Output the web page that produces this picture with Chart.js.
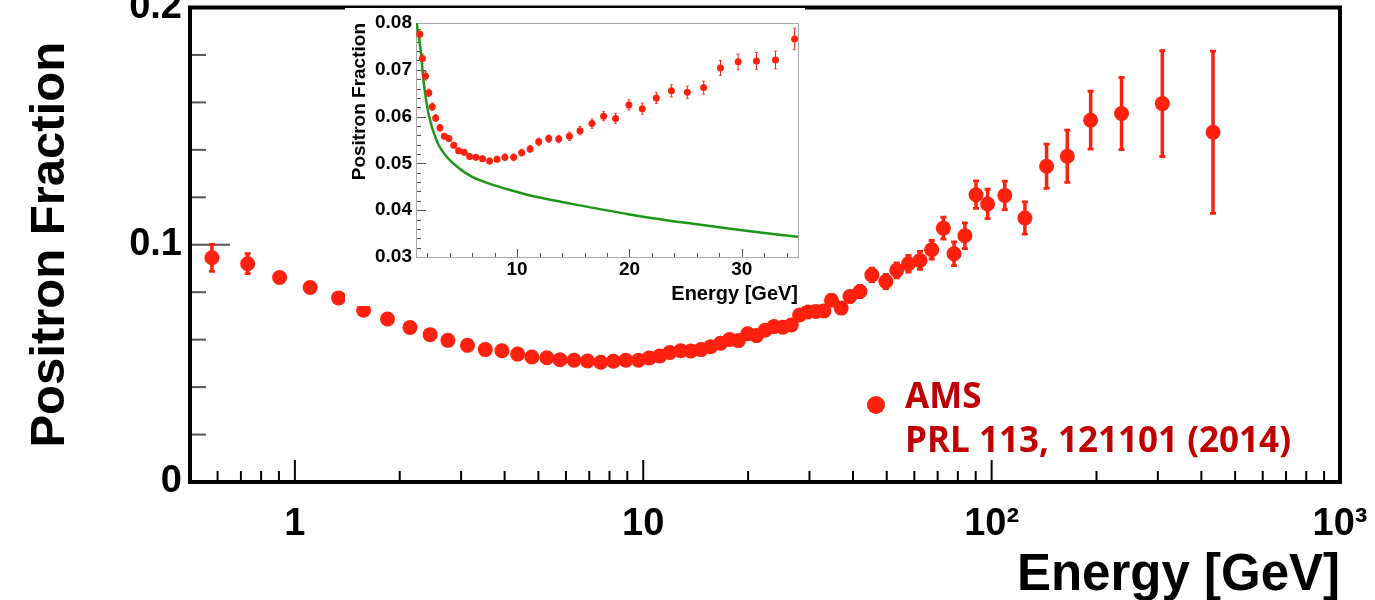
<!DOCTYPE html>
<html>
<head>
<meta charset="utf-8">
<title>Positron Fraction</title>
<script src="https://cdn.jsdelivr.net/npm/chart.js@4.4.1/dist/chart.umd.min.js"></script>
<style>
  html, body { margin: 0; padding: 0; background: #fff; overflow: hidden; }
  #wrap { position: relative; width: 1375px; height: 600px; }
  #main { position: absolute; left: 0; top: 0; }
  #inset { position: absolute; left: 345px; top: 8px; background: #fff; }
</style>
</head>
<body>
<div id="wrap">
  <canvas id="main" width="1375" height="600"></canvas>
  <canvas id="inset" width="460" height="298"></canvas>
</div>
<script>
// AMS positron fraction
const energy = [0.578, 0.732, 0.904, 1.106, 1.335, 1.575, 1.845, 2.14, 2.445, 2.75,
  3.13, 3.52, 3.93, 4.36, 4.79, 5.29, 5.77, 6.33, 6.92, 7.55,
  8.21, 8.91, 9.69, 10.4, 11.15, 11.92, 12.81, 13.7, 14.65, 15.6,
  16.66, 17.7, 18.76, 19.95, 21.14, 22.39, 23.73, 25.15, 26.6, 28.1,
  29.67, 31.3, 33.0, 34.7, 37.0, 39.2, 41.9, 45.3, 49.7, 53.4,
  57.7, 62.3, 67.3, 72.7, 78.0, 83.8, 90.2, 97.4, 109.1, 124.6,
  143.8, 164.9, 192.4, 236, 309, 432]
const fraction = [0.0945, 0.0920, 0.0862, 0.0820, 0.0776, 0.0724, 0.0687, 0.0651, 0.0621, 0.0597,
  0.0576, 0.0558, 0.0553, 0.0539, 0.0527, 0.0524, 0.0515, 0.0513, 0.0510, 0.0505,
  0.0509, 0.0513, 0.0513, 0.0523, 0.0531, 0.0546, 0.0553, 0.0552, 0.0558, 0.0570,
  0.0585, 0.0601, 0.0596, 0.0625, 0.0617, 0.0640, 0.0655, 0.0652, 0.0662, 0.0704,
  0.0717, 0.0719, 0.0721, 0.0766, 0.0733, 0.0782, 0.0803, 0.0873, 0.0845, 0.0892,
  0.0920, 0.0934, 0.0979, 0.1070, 0.0962, 0.1038, 0.1211, 0.1172, 0.1208, 0.1113,
  0.1331, 0.1373, 0.1525, 0.1553, 0.1595, 0.1474]
const fractionErr = [0.0057, 0.0042, 0.0012, 0.0010, 0.0010, 0.0010, 0.0009, 0.0008, 0.0008, 0.0007,
  0.0007, 0.0006, 0.0006, 0.0006, 0.0006, 0.0006, 0.0006, 0.0006, 0.0006, 0.0006,
  0.0006, 0.0007, 0.0007, 0.0007, 0.0007, 0.0008, 0.0008, 0.0008, 0.0009, 0.0009,
  0.0010, 0.0010, 0.0011, 0.0011, 0.0012, 0.0012, 0.0013, 0.0013, 0.0014, 0.0016,
  0.0017, 0.0018, 0.0019, 0.0023, 0.0022, 0.0024, 0.0026, 0.0028, 0.0030, 0.0032,
  0.0035, 0.0038, 0.0039, 0.0046, 0.0050, 0.0054, 0.0058, 0.0062, 0.0060, 0.0068,
  0.0093, 0.0110, 0.0122, 0.0152, 0.0223, 0.0342]

// green curve in the inset
const bgEnergy = [1.0, 1.06, 1.39, 1.68, 2.13, 2.88, 3.6, 4.66, 6.0, 8.0, 10, 12, 15, 20, 25, 30, 35]
const bgFraction = [0.0815, 0.0800, 0.0747, 0.0675, 0.0604, 0.0546, 0.0518, 0.0493, 0.0471, 0.0453,
  0.0439, 0.0427, 0.0413, 0.0391, 0.0373, 0.0357, 0.0343]

// ticks
const xMajorTicks = [1, 10, 100, 1000]
const xTickLabels = ['1', '10', '10²', '10³']
const xMinorTicks = [0.5, 0.6, 0.7, 0.8, 0.9, 2, 3, 4, 5, 6, 7, 8, 9, 20, 30, 40, 50, 60, 70, 80, 90,
  200, 300, 400, 500, 600, 700, 800, 900]
const yMajorTicks = [0, 0.1, 0.2]
const yTickLabels = ['0', '0.1', '0.2']
const yMinorTicks = [0.02, 0.04, 0.06, 0.08, 0.12, 0.14, 0.16, 0.18]

const insetXMajor = [10, 20, 30]
const insetXMinor = [2, 4, 6, 8, 12, 14, 16, 18, 22, 24, 26, 28, 32, 34]
const insetYMajor = [0.03, 0.04, 0.05, 0.06, 0.07, 0.08]
const insetYLabels = ['0.03', '0.04', '0.05', '0.06', '0.07', '0.08']
const insetYMinor = [0.032, 0.034, 0.036, 0.038, 0.042, 0.044, 0.046, 0.048, 0.052, 0.054, 0.056, 0.058,
  0.062, 0.064, 0.066, 0.068, 0.072, 0.074, 0.076, 0.078]
const insetMaxEnergy = 35

const legendLines = ['AMS', 'PRL 113, 121101 (2014)']

const RED = 'rgb(255, 32, 14)'
const HELV = "'Liberation Sans', Arial, sans-serif"

const points = energy.map((e, i) => ({x: e, y: fraction[i], err: fractionErr[i]}))
const insetPoints = points.filter(p => p.x <= insetMaxEnergy)
const bgCurve = bgEnergy.map((e, i) => ({x: e, y: bgFraction[i]}))

function seg(ctx, x1, y1, x2, y2) {
  ctx.beginPath()
  ctx.moveTo(x1, y1)
  ctx.lineTo(x2, y2)
  ctx.stroke()
}

// error bars, under the markers
function errorBars(width, cap) {
  return {
    id: 'errorBars',
    beforeDatasetsDraw(chart) {
      const ctx = chart.ctx, y = chart.scales.y, a = chart.chartArea
      chart.data.datasets.forEach((ds, di) => {
        if (!ds.errorBars) return
        const meta = chart.getDatasetMeta(di)
        ctx.save()
        ctx.beginPath()
        ctx.rect(a.left, a.top, a.right - a.left, a.bottom - a.top)
        ctx.clip()
        ctx.strokeStyle = RED
        meta.data.forEach((el, i) => {
          const p = ds.data[i]
          const top = y.getPixelForValue(p.y + p.err)
          const bot = y.getPixelForValue(p.y - p.err)
          ctx.lineWidth = width
          seg(ctx, el.x, top, el.x, bot)
          ctx.lineWidth = width * 0.8
          seg(ctx, el.x - cap, top, el.x + cap, top)
          seg(ctx, el.x - cap, bot, el.x + cap, bot)
        })
        ctx.restore()
      })
    }
  }
}

const mainAxes = {
  id: 'mainAxes',
  beforeDatasetsDraw(chart) {
    const {ctx, chartArea: a, scales: {x, y}} = chart
    ctx.save()
    ctx.lineWidth = 2
    ctx.strokeStyle = '#000'
    xMajorTicks.forEach(v => { const px = x.getPixelForValue(v); seg(ctx, px, a.bottom, px, a.bottom - 22) })
    xMinorTicks.forEach(v => { const px = x.getPixelForValue(v); seg(ctx, px, a.bottom, px, a.bottom - 11) })
    ctx.strokeStyle = '#555'
    yMajorTicks.forEach(v => { const py = y.getPixelForValue(v); seg(ctx, a.left, py, a.left + 40, py) })
    yMinorTicks.forEach(v => { const py = y.getPixelForValue(v); seg(ctx, a.left, py, a.left + 16, py) })
    ctx.lineWidth = 4
    ctx.strokeStyle = '#000'
    ctx.strokeRect(a.left, a.top, a.right - a.left, a.bottom - a.top)
    ctx.restore()
  }
}

const amsLegend = {
  id: 'amsLegend',
  afterDraw(chart) {
    const ctx = chart.ctx
    ctx.save()
    ctx.fillStyle = RED
    ctx.beginPath()
    ctx.arc(876, 405, 9, 0, Math.PI * 2)
    ctx.fill()
    ctx.fillStyle = '#c00000'
    ctx.font = "700 35px 'Open Sans', sans-serif"
    ctx.textBaseline = 'alphabetic'
    ctx.fillText(legendLines[0], 905, 408)
    ctx.fillText(legendLines[1], 905, 452)
    ctx.restore()
  }
}

const insetAxes = {
  id: 'insetAxes',
  beforeDatasetsDraw(chart) {
    const {ctx, chartArea: a, scales: {x, y}} = chart
    ctx.save()
    ctx.lineWidth = 1
    ctx.strokeStyle = '#555'
    insetXMajor.forEach(v => { const px = Math.round(x.getPixelForValue(v)) + 0.5; seg(ctx, px, a.bottom, px, a.bottom - 8) })
    insetXMinor.forEach(v => { const px = Math.round(x.getPixelForValue(v)) + 0.5; seg(ctx, px, a.bottom, px, a.bottom - 4) })
    insetYMajor.forEach(v => { const py = Math.round(y.getPixelForValue(v)) + 0.5; seg(ctx, a.left, py, a.left + 10, py) })
    insetYMinor.forEach(v => { const py = Math.round(y.getPixelForValue(v)) + 0.5; seg(ctx, a.left, py, a.left + 5, py) })
    ctx.strokeStyle = '#aaa'
    ctx.strokeRect(Math.round(a.left) + 0.5, Math.round(a.top) + 0.5, Math.round(a.right - a.left), Math.round(a.bottom - a.top))
    ctx.restore()
  }
}

document.addEventListener('DOMContentLoaded', function() {
  new Chart(document.getElementById('main'), {
    type: 'scatter',
    data: {
      datasets: [{
        data: points,
        errorBars: true,
        pointRadius: 7.5,
        pointBackgroundColor: RED,
        pointBorderWidth: 0,
        clip: false
      }]
    },
    options: {
      responsive: false,
      animation: false,
      events: [],
      layout: {padding: {left: 0, top: 5, right: 35, bottom: 0}},
      plugins: {legend: {display: false}, tooltip: {enabled: false}},
      scales: {
        x: {
          type: 'logarithmic',
          min: 0.5,
          max: 1000,
          afterBuildTicks: s => { s.ticks = xMajorTicks.concat(xMinorTicks).sort((p, q) => p - q).map(v => ({value: v})) },
          afterFit: s => { s.height = 118; s.paddingLeft = 0; s.paddingRight = 0 },
          grid: {display: false, drawTicks: false},
          border: {display: false},
          ticks: {
            autoSkip: false,
            maxRotation: 0,
            padding: 20,
            color: '#000',
            font: {family: HELV, size: 38, weight: 'bold'},
            callback: v => { const i = xMajorTicks.indexOf(v); return i >= 0 ? xTickLabels[i] : '' }
          },
          title: {
            display: true,
            text: 'Energy [GeV]',
            align: 'end',
            color: '#000',
            font: {family: HELV, size: 51, weight: 'bold', lineHeight: 1},
            padding: {top: 0, bottom: -1}
          }
        },
        y: {
          min: 0,
          max: 0.2,
          afterBuildTicks: s => { s.ticks = yMajorTicks.concat(yMinorTicks).sort((p, q) => p - q).map(v => ({value: v})) },
          afterFit: s => { s.width = 190; s.paddingTop = 0; s.paddingBottom = 0 },
          grid: {display: false, drawTicks: false},
          border: {display: false},
          ticks: {
            autoSkip: false,
            padding: 8,
            color: '#000',
            font: {family: HELV, size: 38, weight: 'bold'},
            callback: v => { const i = yMajorTicks.findIndex(m => Math.abs(m - v) < 1e-9); return i >= 0 ? yTickLabels[i] : '' }
          },
          title: {
            display: true,
            text: 'Positron Fraction',
            color: '#000',
            font: {family: HELV, size: 49, weight: 'bold', lineHeight: 1},
            padding: {top: 26, bottom: 0}
          }
        }
      }
    },
    plugins: [mainAxes, errorBars(3.5, 3), amsLegend]
  })

  new Chart(document.getElementById('inset'), {
    type: 'scatter',
    data: {
      datasets: [{
        type: 'line',
        data: bgCurve,
        borderColor: 'rgb(30, 150, 24)',
        borderWidth: 2.5,
        pointRadius: 0,
        fill: false,
        cubicInterpolationMode: 'monotone',
        order: 2
      }, {
        data: insetPoints,
        errorBars: true,
        pointRadius: 3.5,
        pointBackgroundColor: RED,
        pointBorderWidth: 0,
        order: 1
      }]
    },
    options: {
      responsive: false,
      animation: false,
      events: [],
      layout: {padding: {left: 0, top: 15, right: 7, bottom: 0}},
      plugins: {legend: {display: false}, tooltip: {enabled: false}},
      scales: {
        x: {
          type: 'linear',
          min: 1,
          max: 35,
          afterBuildTicks: s => { s.ticks = insetXMajor.map(v => ({value: v})) },
          afterFit: s => { s.height = 49; s.paddingLeft = 0; s.paddingRight = 0 },
          grid: {display: false, drawTicks: false},
          border: {display: false},
          ticks: {
            autoSkip: false,
            maxRotation: 0,
            padding: 1,
            color: '#000',
            font: {family: HELV, size: 19, weight: 'bold'},
            callback: v => String(v)
          },
          title: {
            display: true,
            text: 'Energy [GeV]',
            align: 'end',
            color: '#000',
            font: {family: HELV, size: 20, weight: 'bold', lineHeight: 1},
            padding: {top: 0, bottom: 2}
          }
        },
        y: {
          min: 0.03,
          max: 0.08,
          afterBuildTicks: s => { s.ticks = insetYMajor.map(v => ({value: v})) },
          afterFit: s => { s.width = 71; s.paddingTop = 0; s.paddingBottom = 0 },
          grid: {display: false, drawTicks: false},
          border: {display: false},
          ticks: {
            autoSkip: false,
            padding: 4,
            color: '#000',
            font: {family: HELV, size: 19, weight: 'bold'},
            callback: (v, i) => insetYLabels[i]
          },
          title: {
            display: true,
            text: 'Positron Fraction',
            align: 'end',
            color: '#000',
            font: {family: HELV, size: 19, weight: 'bold', lineHeight: 1},
            padding: {top: 5, bottom: 0}
          }
        }
      }
    },
    plugins: [insetAxes, errorBars(1, 1.5)]
  })
})
</script>
</body>
</html>
